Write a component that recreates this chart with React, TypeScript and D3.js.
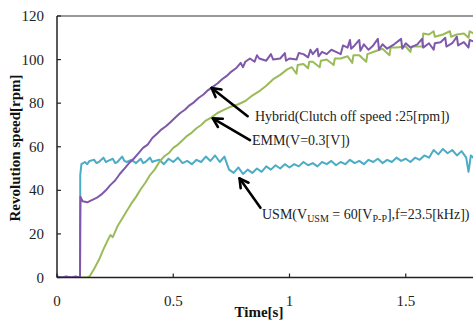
import React from "react";
import * as d3 from "d3";

// [time s, speed rpm]
const usm: [number, number][] = [
  [0, 0], [0.099, 0], [0.1, 47], [0.105, 52], [0.12, 53], [0.13, 52], [0.14, 53.5], [0.16, 54], [0.17, 52.5], [0.18, 53],
  [0.2, 55], [0.21, 53], [0.22, 53.5], [0.24, 54.5], [0.25, 52.5], [0.26, 53], [0.28, 55.5], [0.29, 53.5], [0.3, 53], [0.32, 54], [0.34, 52.5],
  [0.36, 54.5], [0.37, 52.5], [0.38, 53], [0.4, 55], [0.41, 53], [0.42, 53.5], [0.44, 54], [0.46, 52], [0.48, 54.5], [0.5, 53],
  [0.52, 55], [0.54, 52.5], [0.56, 53.5], [0.58, 52], [0.6, 54], [0.62, 53], [0.64, 55.5], [0.66, 53.5],
  [0.68, 56], [0.7, 53], [0.72, 55.5], [0.74, 49.5], [0.76, 48], [0.78, 50.5], [0.8, 47.5], [0.82, 49.5],
  [0.84, 48], [0.86, 50], [0.88, 48.5], [0.9, 51], [0.92, 49.5], [0.94, 51.5], [0.96, 50], [0.98, 52],
  [1.0, 50.5], [1.02, 52], [1.04, 51], [1.06, 53], [1.08, 51.5], [1.1, 52.5], [1.12, 51], [1.14, 53],
  [1.16, 52], [1.18, 53.5], [1.2, 51.5], [1.22, 53], [1.24, 52], [1.26, 54], [1.28, 52.5], [1.3, 53.5],
  [1.32, 52], [1.34, 54], [1.36, 53], [1.38, 54.5], [1.4, 52.5], [1.42, 54], [1.44, 53], [1.46, 55],
  [1.48, 53.5], [1.5, 54.5], [1.52, 53], [1.54, 55], [1.56, 54], [1.58, 56], [1.6, 55], [1.62, 58.5],
  [1.64, 56.5], [1.66, 59], [1.68, 57], [1.7, 58.5], [1.72, 56], [1.74, 58], [1.76, 55], [1.77, 48.5],
  [1.78, 56], [1.8, 54],
];

const hybrid: [number, number][] = [
  [0, 0.5], [0.02, 0], [0.04, 0.5], [0.06, 0], [0.08, 0.5], [0.099, 0], [0.1, 25], [0.101, 37],
  [0.11, 35], [0.13, 34.5], [0.15, 35.5], [0.17, 36.5], [0.19, 38], [0.21, 40], [0.23, 42.5], [0.25, 44.5],
  [0.27, 47.5], [0.29, 50], [0.31, 52.5], [0.33, 54.5], [0.35, 57], [0.37, 59.5], [0.39, 61], [0.41, 64],
  [0.43, 66], [0.45, 68], [0.47, 69.5], [0.49, 71.5], [0.51, 73.5], [0.53, 75.5], [0.55, 77], [0.57, 79],
  [0.59, 80.5], [0.61, 82.5], [0.63, 84], [0.65, 86], [0.67, 87.5], [0.69, 89], [0.71, 91], [0.73, 92.5],
  [0.75, 94.5], [0.77, 96], [0.79, 98.5], [0.8, 96.5], [0.81, 99], [0.83, 100.5], [0.85, 99], [0.86, 102], [0.87, 100.5], [0.9, 99.5],
  [0.92, 102.5], [0.93, 100], [0.96, 100.5], [0.98, 103], [0.985, 99.5], [1.0, 100.5], [1.03, 100], [1.04, 103], [1.06, 102.5],
  [1.08, 101], [1.09, 104.5], [1.1, 102.5], [1.12, 105], [1.125, 101.5], [1.14, 103.5], [1.16, 102.5], [1.18, 104.5],
  [1.2, 103.5], [1.22, 102.5], [1.23, 106.5], [1.25, 105.5], [1.26, 109], [1.265, 105], [1.28, 106.5], [1.3, 109],
  [1.305, 104], [1.32, 107], [1.34, 104.5], [1.36, 106.5], [1.38, 109.5], [1.385, 104.5], [1.4, 107], [1.42, 105],
  [1.45, 107], [1.48, 109.5], [1.485, 105], [1.5, 107.5], [1.52, 105.5], [1.55, 107], [1.57, 109.5], [1.575, 105.5],
  [1.6, 107.5], [1.62, 104.5], [1.625, 107.5], [1.65, 108], [1.67, 110], [1.675, 106], [1.7, 107.5], [1.72, 110.5],
  [1.725, 106.5], [1.75, 108], [1.77, 105.5], [1.775, 109], [1.8, 108],
];

const emm: [number, number][] = [
  [0, 0], [0.13, 0], [0.14, 0.5], [0.16, 4], [0.18, 8], [0.2, 13], [0.22, 17.5], [0.23, 19.5], [0.24, 18.5],
  [0.26, 23.5], [0.28, 27], [0.3, 30.5], [0.32, 34], [0.34, 37], [0.36, 40.5], [0.38, 43.5], [0.4, 47],
  [0.42, 49.5], [0.44, 53], [0.46, 55.5], [0.48, 57], [0.5, 59.5], [0.52, 61], [0.54, 63], [0.56, 65],
  [0.58, 66.5], [0.6, 68.5], [0.62, 70], [0.64, 72], [0.665, 73.5], [0.69, 75.5], [0.72, 77], [0.75, 78.5],
  [0.78, 79.5], [0.81, 81], [0.84, 83.5], [0.87, 85.5], [0.9, 88], [0.93, 91], [0.96, 93], [0.99, 95.5],
  [1.01, 96.5], [1.03, 93.5], [1.035, 97.5], [1.06, 98], [1.08, 96], [1.085, 99], [1.1, 99], [1.13, 96.5],
  [1.135, 99.5], [1.16, 100], [1.19, 97.5], [1.195, 100.5], [1.22, 100.5], [1.25, 101.5], [1.27, 98.5],
  [1.275, 102], [1.3, 102], [1.33, 99], [1.335, 102.5], [1.36, 103.5], [1.4, 105], [1.43, 102], [1.435, 105.5],
  [1.46, 105.5], [1.5, 106], [1.52, 103.5], [1.525, 106], [1.55, 106], [1.572, 106], [1.575, 112],
  [1.6, 111.5], [1.62, 113], [1.625, 110.5], [1.66, 111.5], [1.69, 113], [1.695, 110.5], [1.72, 111.5],
  [1.75, 112], [1.77, 110], [1.775, 113], [1.8, 111.5],
];

const yTicks = [0, 20, 40, 60, 80, 100, 120];
const xTicks = [0, 0.5, 1, 1.5];

// arrows: [tailT, tailV, tipT, tipV]
const arrows: [number, number, number, number][] = [
  [0.82, 74, 0.665, 87],
  [0.83, 63, 0.67, 73],
  [0.875, 32, 0.785, 45.5],
];

const W = 473;
const H = 321;
const left = 57;
const top = 16;
const bottom = 277.5;

const x = d3.scaleLinear().domain([0, 2]).range([left, left + 465]);
const y = d3.scaleLinear().domain([0, 120]).range([bottom, top]);

const line = d3
  .line<[number, number]>()
  .x((d) => x(d[0]))
  .y((d) => y(d[1]));

const serif = "Liberation Serif, Times New Roman, serif";

function Arrow({ a }: { a: [number, number, number, number] }) {
  const x1 = x(a[0]);
  const y1 = y(a[1]);
  const x2 = x(a[2]);
  const y2 = y(a[3]);
  const ang = Math.atan2(y1 - y2, x1 - x2);
  const len = 10;
  const spread = 0.5;
  const h1 = [x2 + len * Math.cos(ang + spread), y2 + len * Math.sin(ang + spread)];
  const h2 = [x2 + len * Math.cos(ang - spread), y2 + len * Math.sin(ang - spread)];
  return (
    <g stroke="#000" strokeWidth={2.6} fill="none" strokeLinecap="round" strokeLinejoin="round">
      <line x1={x1} y1={y1} x2={x2} y2={y2} />
      <polyline points={`${h1[0]},${h1[1]} ${x2},${y2} ${h2[0]},${h2[1]}`} />
    </g>
  );
}

export default function App() {
  const txt = { fontFamily: serif };
  return (
    <svg
      width={W}
      height={H}
      style={{ position: "absolute", left: 0, top: 0, background: "#fff", fontFamily: serif }}
    >
      <defs>
        <clipPath id="plot">
          <rect x={left} y={top - 2} width={W - left} height={bottom - top + 2} />
        </clipPath>
      </defs>

      {/* top border */}
      <line x1={left} x2={W} y1={top} y2={top} stroke="#333" strokeWidth={1.2} />

      <g clipPath="url(#plot)" fill="none" strokeWidth={2} strokeLinejoin="round">
        <path d={line(usm) || ""} stroke="#4BACC6" />
        <path d={line(emm) || ""} stroke="#9BBB59" />
        <path d={line(hybrid) || ""} stroke="#7F58AA" />
      </g>

      {/* axes */}
      <line x1={left} x2={left} y1={top} y2={bottom} stroke="#222" strokeWidth={1.5} />
      <line x1={left} x2={W} y1={bottom} y2={bottom} stroke="#222" strokeWidth={1.5} />
      {yTicks.map((t) => (
        <g key={"y" + t}>
          <line x1={left} x2={left + 4} y1={y(t)} y2={y(t)} stroke="#222" strokeWidth={1.2} />
          <text x={44} y={y(t) + 5} textAnchor="end" fontSize={15} fill="#222" style={txt}>
            {t}
          </text>
        </g>
      ))}
      {xTicks.map((t) => (
        <g key={"x" + t}>
          <line x1={x(t)} x2={x(t)} y1={bottom} y2={bottom - 4} stroke="#222" strokeWidth={1.2} />
          <text x={x(t)} y={306} textAnchor="middle" fontSize={15} fill="#222" style={txt}>
            {t}
          </text>
        </g>
      ))}

      <text x={259} y={317} textAnchor="middle" fontSize={15} fontWeight="bold" fill="#111" style={txt}>
        Time[s]
      </text>
      <text
        transform={`translate(20,${148}) rotate(-90)`}
        textAnchor="middle"
        fontSize={15}
        fontWeight="bold"
        fill="#111"
        style={txt}
      >
        Revolution speed[rpm]
      </text>

      {arrows.map((a, i) => (
        <Arrow key={i} a={a} />
      ))}

      <text x={255} y={121} fontSize={14} fill="#222" style={txt}>
        Hybrid(Clutch off speed :25[rpm])
      </text>
      <text x={252} y={145} fontSize={14} fill="#222" style={txt}>
        EMM(V=0.3[V])
      </text>
      <text x={262} y={219} fontSize={14} fill="#222" style={txt}>
        USM(V
        <tspan fontSize={10} dy={3}>USM</tspan>
        <tspan dy={-3}> = 60[V</tspan>
        <tspan fontSize={10} dy={3}>P-P</tspan>
        <tspan dy={-3}>],f=23.5[kHz])</tspan>
      </text>
    </svg>
  );
}
